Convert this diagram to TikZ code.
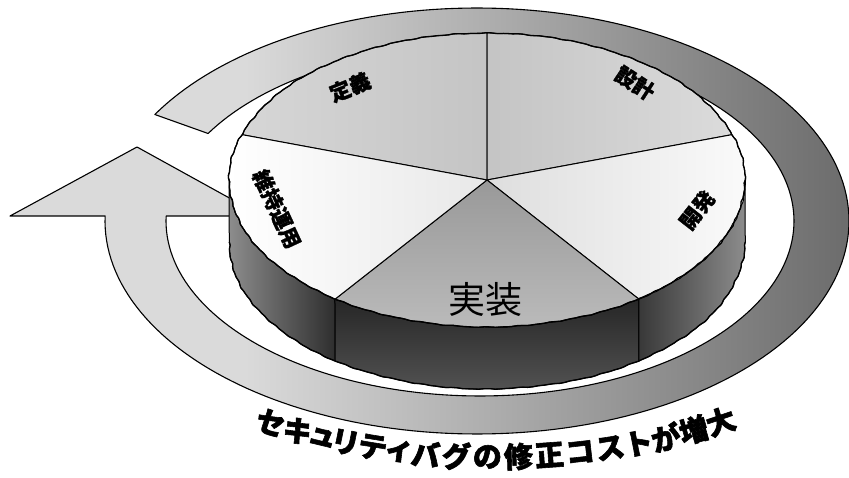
\documentclass[tikz,border=0pt]{standalone}
\usepackage{fontspec}
\newfontfamily\cjk{Noto Sans CJK JP}
\newfontfamily\cjkh[BoldFeatures={FakeBold=1.2}]{Noto Sans CJK JP}
\newfontfamily\cjkx[BoldFeatures={FakeBold=2}]{Noto Sans CJK JP}
\definecolor{ringL}{HTML}{DADADA}
\definecolor{ringR}{HTML}{6C6C6C}
\pgfdeclarehorizontalshading{ringsh}{100bp}{color(0bp)=(ringL); color(25bp)=(ringL); color(39bp)=(ringL); color(75bp)=(ringR); color(100bp)=(ringR)}
\tikzset{
  ringline/.style={draw=black, line width=1.1pt, line join=round},
  wall/.style={draw=black, line width=1pt, line join=round},
  slice/.style={draw=black, line width=1pt, line join=round},
  lbl/.style={font=\cjkh\bfseries\fontsize{21}{21}\selectfont, inner sep=0pt},
  bigl/.style={font=\cjk\fontsize{37}{37}\selectfont, inner sep=0pt},
  btxt/.style={font=\cjkx\bfseries\fontsize{29}{29}\selectfont, inner sep=0pt},
}
\begin{document}
\begin{tikzpicture}[x=1pt, y=-1pt,
  declare function={wob(\t)=1+0.0018*sin(360*frac(0.147222*\t))+0.0015*sin(360*frac(0.269444*\t)+30)+0.001*sin(360*frac(0.0305*\t));}]
\useasboundingbox (0,0) rectangle (849,478);
\def\cx{487}\def\cy{180}\def\ra{258}\def\rb{147}\def\hh{62}
% ring arrow
\path[ringline, shading=ringsh]
  plot[domain=0:331.35, samples=200] ({477+372*cos(150-\x)}, {221-213*sin(150-\x)})
  -- (10,216) -- (137,147) -- (262,216)
  -- plot[domain=0:331.64, samples=200] ({480+314*cos(-181.64+\x)}, {221-175*sin(-181.64+\x)})
  -- cycle;
% walls
\path[wall, left color=black!45, right color=black!82]
  plot[domain=180:234, samples=40] ({\cx+\ra*cos(\x)*wob(\x)}, {\cy-\rb*sin(\x)*wob(\x)})
  -- plot[domain=234:180, samples=40] ({\cx+\ra*cos(\x)*wob(\x+7)}, {\cy+\hh-\rb*sin(\x)*wob(\x+7)})
  -- cycle;
\path[wall, top color=black!85, bottom color=black!68]
  plot[domain=234:306, samples=60] ({\cx+\ra*cos(\x)*wob(\x)}, {\cy-\rb*sin(\x)*wob(\x)})
  -- plot[domain=306:234, samples=60] ({\cx+\ra*cos(\x)*wob(\x+7)}, {\cy+\hh-\rb*sin(\x)*wob(\x+7)})
  -- cycle;
\path[wall, left color=black!78, right color=black!45]
  plot[domain=306:360, samples=40] ({\cx+\ra*cos(\x)*wob(\x)}, {\cy-\rb*sin(\x)*wob(\x)})
  -- plot[domain=360:306, samples=40] ({\cx+\ra*cos(\x)*wob(\x+7)}, {\cy+\hh-\rb*sin(\x)*wob(\x+7)})
  -- cycle;
% slices
\path[slice, left color=black!16, right color=black!23]
  (\cx,\cy) -- plot[domain=90:162, samples=60] ({\cx+\ra*cos(\x)*wob(\x)}, {\cy-\rb*sin(\x)*wob(\x)}) -- cycle;
\path[slice, left color=black!23, right color=black!14]
  (\cx,\cy) -- plot[domain=18:90, samples=60] ({\cx+\ra*cos(\x)*wob(\x)}, {\cy-\rb*sin(\x)*wob(\x)}) -- cycle;
\path[slice, left color=black!13, right color=black!2]
  (\cx,\cy) -- plot[domain=-54:18, samples=60] ({\cx+\ra*cos(\x)*wob(\x)}, {\cy-\rb*sin(\x)*wob(\x)}) -- cycle;
\path[slice, top color=black!40, bottom color=black!27]
  (\cx,\cy) -- plot[domain=234:306, samples=60] ({\cx+\ra*cos(\x)*wob(\x)}, {\cy-\rb*sin(\x)*wob(\x)}) -- cycle;
\path[slice, left color=white, right color=black!9]
  (\cx,\cy) -- plot[domain=162:234, samples=60] ({\cx+\ra*cos(\x)*wob(\x)}, {\cy-\rb*sin(\x)*wob(\x)}) -- cycle;
% rim outline
\draw[line width=1.3pt, line join=round]
  plot[domain=0:360, samples=300] ({\cx+\ra*cos(\x)*wob(\x)}, {\cy-\rb*sin(\x)*wob(\x)}) -- cycle;
\draw[line width=1.3pt, line join=round]
  plot[domain=180:360, samples=150] ({\cx+\ra*cos(\x)*wob(\x+7)}, {\cy+\hh-\rb*sin(\x)*wob(\x+7)});
% labels
\node[lbl, rotate=22] (teigi) at (350,87) {定義};
\node[lbl, rotate=-33] (sekkei) at (635,83) {設計};
\node[lbl, rotate=52] (kaihatsu) at (697,210) {開発};
\node[lbl, rotate=-65] (iji) at (277,209) {維持運用};
\node[bigl] (jisso) at (485,300) {実装};
% bottom text along the ring
\foreach \a/\c [count=\i] in {238.7/セ, 242.84/キ, 246.46/ュ, 249.77/リ, 253.60/テ, 257.22/ィ, 260.84/バ, 264.98/グ, 269.12/の, 273.26/修, 277.40/正, 281.54/コ, 285.68/ス, 289.61/ト, 293.54/が, 297.68/増, 301.82/大}{
  \pgfmathsetmacro\rr{atan2(236*cos(\a), -430*sin(\a))}
  \node[btxt, rotate=\rr] (b\i) at ({494+430*cos(\a)}, {221-236*sin(\a)}) {\c};
}
\end{tikzpicture}
\end{document}
